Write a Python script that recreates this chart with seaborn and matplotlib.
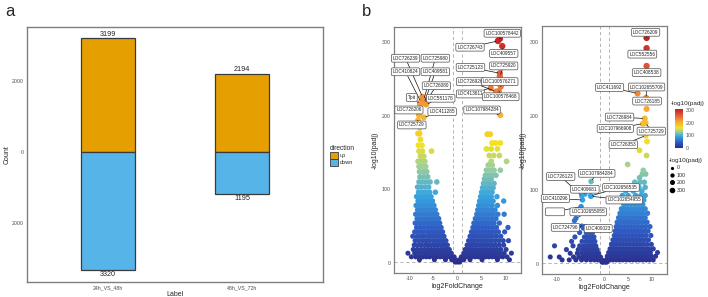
import matplotlib
matplotlib.use("Agg")
import numpy as np
import pandas as pd
import matplotlib.pyplot as plt
import seaborn as sns
from matplotlib.colors import LinearSegmentedColormap, Normalize
from matplotlib.cm import ScalarMappable
from matplotlib.lines import Line2D
from matplotlib.patches import Patch
import matplotlib.ticker as mticker

# ---------------- panel a : DEG counts ----------------
comparisons = ["24h_VS_48h", "48h_VS_72h"]
up_counts = [3199, 2194]
down_counts = [3320, 1195]

# ---------------- panel b : volcano data (log2FC values per -log10(padj) level) ----------------
v1_down_rows = [
    (1, [-0.2, -0.5]),
    (4, [-0.4, -0.8, -1.2, -2.5, -4.8, -7.9]),
    (8, [-0.7, -1.1, -1.6, -2.2, -2.9, -3.6, -4.3, -5.0, -5.8, -6.5, -7.2, -8.0, -8.7, -9.6]),
    (13, [-1.3, -1.8, -2.4, -3.0, -3.7, -4.4, -5.1, -5.8, -6.6, -7.3, -8.1, -8.9, -10.3]),
    (18, [-1.7, -2.2, -2.8, -3.4, -4.1, -4.8, -5.5, -6.2, -6.9, -7.6, -8.4, -9.2]),
    (24, [-2.1, -2.6, -3.2, -3.9, -4.6, -5.3, -6.0, -6.7, -7.5, -8.2, -9.0]),
    (30, [-2.4, -3.0, -3.6, -4.3, -5.0, -5.8, -6.5, -7.2, -8.0, -8.8]),
    (36, [-2.8, -3.4, -4.0, -4.7, -5.4, -6.1, -6.9, -7.6, -8.4, -9.3]),
    (42, [-3.1, -3.7, -4.4, -5.1, -5.8, -6.5, -7.3, -8.1, -8.9]),
    (48, [-3.4, -4.0, -4.7, -5.4, -6.1, -6.9, -7.7, -8.5]),
    (54, [-3.7, -4.3, -5.0, -5.7, -6.4, -7.2, -8.0, -8.8]),
    (60, [-3.9, -4.6, -5.3, -6.0, -6.8, -7.6, -8.4]),
    (66, [-4.3, -5.0, -5.7, -6.4, -7.1, -7.9, -8.7]),
    (72, [-4.6, -5.3, -6.0, -6.7, -7.5, -8.3]),
    (78, [-4.9, -5.6, -6.3, -7.1, -7.9, -8.6]),
    (84, [-5.2, -5.9, -6.6, -7.4, -8.2]),
    (90, [-5.5, -6.2, -7.0, -7.8, -8.5]),
    (96, [-4.6, -5.8, -6.5, -7.3, -8.1]),
    (103, [-6.0, -6.8, -7.6, -8.3]),
    (110, [-4.3, -5.7, -6.5, -7.3, -8.0]),
    (117, [-6.2, -7.0, -7.8]),
    (124, [-6.4, -7.1, -7.9]),
    (131, [-6.6, -7.3, -8.0]),
    (138, [-6.8, -7.5, -8.2]),
    (145, [-7.0, -7.7]),
    (152, [-5.4, -7.3, -8.0]),
    (160, [-7.4, -8.1]),
    (168, [-7.7]),
    (176, [-7.9, -8.2]),
    (184, [-7.8]),
    (190, [-8.0]),
]
v1_up_rows = [
    (1, [0.2, 0.5]),
    (4, [0.4, 0.8, 1.3, 2.6, 5.1, 8.3, 10.8]),
    (8, [0.8, 1.2, 1.7, 2.3, 3.0, 3.7, 4.4, 5.1, 5.8, 6.5, 7.2, 7.9, 8.6, 9.4, 10.3]),
    (13, [1.3, 1.8, 2.4, 3.0, 3.7, 4.4, 5.1, 5.8, 6.5, 7.2, 8.0, 8.8, 9.7, 11.2]),
    (18, [1.6, 2.1, 2.7, 3.3, 4.0, 4.7, 5.4, 6.1, 6.8, 7.5, 8.2, 9.0, 10.1]),
    (24, [2.0, 2.5, 3.1, 3.7, 4.4, 5.1, 5.8, 6.5, 7.2, 7.9, 8.7, 9.6]),
    (30, [2.3, 2.9, 3.5, 4.2, 4.9, 5.6, 6.3, 7.0, 7.8, 8.6, 9.5, 10.6]),
    (36, [2.6, 3.2, 3.8, 4.5, 5.2, 5.9, 6.6, 7.3, 8.1, 9.0]),
    (42, [2.9, 3.5, 4.1, 4.8, 5.5, 6.2, 6.9, 7.7, 8.5, 9.8]),
    (48, [3.2, 3.8, 4.4, 5.1, 5.8, 6.5, 7.3, 8.1, 10.5]),
    (54, [3.4, 4.0, 4.7, 5.4, 6.1, 6.8, 7.6, 8.7]),
    (60, [3.7, 4.3, 5.0, 5.7, 6.4, 7.2, 8.0]),
    (66, [4.0, 4.6, 5.3, 6.0, 6.7, 7.5, 8.4, 9.7]),
    (72, [4.2, 4.8, 5.5, 6.2, 7.0, 7.8]),
    (78, [4.4, 5.0, 5.7, 6.4, 7.2, 8.3]),
    (84, [4.6, 5.2, 5.9, 6.6, 7.4, 9.6]),
    (90, [4.8, 5.5, 6.2, 7.0, 8.2]),
    (96, [5.0, 5.7, 6.4, 7.2]),
    (102, [5.2, 5.9, 6.6, 7.4]),
    (108, [5.4, 6.1, 6.8, 7.6]),
    (114, [5.6, 6.3, 7.0]),
    (119, [5.8, 6.5, 7.2, 8.0]),
    (126, [6.0, 6.8, 7.6, 8.9]),
    (133, [6.4, 7.2]),
    (138, [7.0, 10.2]),
    (146, [6.6, 7.5, 8.7]),
    (155, [6.0, 7.0, 8.3]),
    (163, [7.2, 7.9, 8.9]),
    (175, [6.2, 6.8]),
]
v1_genes = ["LOC726239", "LOC725980", "LOC410824", "LOC409581", "LOC726080",
            "Tpit", "LOC551178", "LOC726206", "LOC411285", "LOC725729",
            "LOC100578442", "LOC726743", "LOC409557", "LOC725123", "LOC725920",
            "LOC726926", "LOC100576271", "LOC413611", "LOC100578468", "LOC107984284"]
v1_gene_lfc = [-7.3, -7.0, -7.6, -6.9, -6.8, -7.8, -6.5, -8.0, -7.0, -8.2,
               8.8, 8.4, 9.3, 8.8, 8.8, 8.0, 9.0, 6.9, 8.6, 8.9]
v1_gene_padj = [226, 222, 219, 218, 217, 216, 215.5, 201, 198, 194,
                305, 302, 295, 258, 254, 233, 240, 238, 234, 201]

v2_down_rows = [
    (2, [-0.2, -0.5]),
    (5, [-0.5, -0.9, -1.4, -2.1, -2.9, -3.8, -4.8, -6.0, -7.4, -8.9]),
    (9, [-0.8, -1.2, -1.7, -2.3, -3.0, -3.7, -4.5, -5.4, -6.5, -9.5, -11.4]),
    (14, [-1.2, -1.6, -2.1, -2.7, -3.3, -4.0, -4.8, -5.7, -7.2]),
    (19, [-1.5, -2.0, -2.5, -3.1, -3.8, -4.6, -5.5, -8.0]),
    (24, [-1.8, -2.3, -2.9, -3.6, -4.3, -5.2, -6.6, -10.5]),
    (30, [-2.0, -2.6, -3.2, -3.9, -4.7, -6.9]),
    (36, [-2.2, -2.8, -3.5, -4.2, -6.2]),
    (42, [-2.5, -3.1, -3.8, -5.2]),
    (48, [-3.4, -4.4]),
    (58, [-6.3]),
]
v2_up_rows = [
    (2, [0.2, 0.5]),
    (5, [0.4, 0.8, 1.2, 1.8, 2.5, 3.2, 3.9, 4.6, 5.3, 6.0, 6.7, 7.4, 8.1, 8.8, 9.5, 10.3]),
    (10, [0.6, 1.0, 1.5, 2.1, 2.8, 3.5, 4.2, 4.9, 5.6, 6.3, 7.0, 7.7, 8.4, 9.1, 9.9, 10.8]),
    (15, [0.9, 1.4, 2.0, 2.6, 3.3, 4.0, 4.7, 5.4, 6.1, 6.8, 7.5, 8.2, 8.9, 9.7, 11.2]),
    (20, [1.2, 1.7, 2.3, 3.0, 3.7, 4.4, 5.1, 5.8, 6.5, 7.2, 7.9, 8.6, 9.4, 10.3]),
    (26, [1.5, 2.0, 2.6, 3.3, 4.0, 4.7, 5.4, 6.1, 6.8, 7.5, 8.2, 9.0, 9.9]),
    (32, [1.8, 2.3, 2.9, 3.5, 4.2, 4.9, 5.6, 6.3, 7.0, 7.7, 8.5, 9.3]),
    (38, [2.1, 2.6, 3.2, 3.8, 4.5, 5.2, 5.9, 6.6, 7.3, 8.0, 8.8, 9.8]),
    (44, [2.3, 2.8, 3.4, 4.1, 4.8, 5.5, 6.2, 6.9, 7.6, 8.4, 9.2]),
    (50, [2.5, 3.0, 3.6, 4.3, 5.0, 5.7, 6.4, 7.1, 7.9, 8.7, 9.6]),
    (56, [2.7, 3.3, 3.9, 4.6, 5.3, 6.0, 6.7, 7.4, 8.2, 9.0]),
    (62, [3.0, 3.6, 4.2, 4.9, 5.6, 6.3, 7.0, 7.8, 8.6]),
    (68, [3.3, 3.9, 4.6, 5.3, 6.0, 6.7, 7.4, 8.2, 9.1]),
    (74, [3.6, 4.2, 4.9, 5.6, 6.3, 7.0, 7.8, 8.6]),
    (80, [4.1, 4.8, 5.6, 6.4, 7.2, 8.1]),
    (86, [4.4, 5.6, 6.9, 8.3]),
    (92, [3.8, 5.0, 6.6, 7.7, 8.6]),
    (98, [4.5, 6.1, 7.9]),
    (103, [5.2, 7.3, 8.6]),
    (110, [6.4, 7.5, 8.4]),
    (116, [7.4]),
    (121, [8.0, 8.7]),
    (126, [8.2]),
    (134, [4.9]),
    (146, [8.9]),
    (153, [7.4]),
    (165, [9.0]),
    (209, [8.9]),
]
v2_genes = ["LOC726209", "LOC552556", "LOC408538", "LOC411692", "LOC102655709",
            "LOC726185", "LOC726984", "LOC107966908", "LOC725729", "LOC726353",
            "LOC726123", "LOC107984284", "LOC409681", "LOC102656535", "LOC410296",
            "LOC102654955", "            ", "LOC102655055", "LOC724796", "LOC409023"]
v2_gene_lfc = [8.9, 8.9, 8.9, 7.0, 8.8, 8.9, 8.5, 8.1, 8.7, 8.7,
               -4.75, -2.8, -4.1, -2.9, -4.6, -2.8, -4.9, -6.0, -4.75, -4.1]
v2_gene_padj = [305, 291, 267, 230, 224, 222, 196, 189, 190, 173,
                91.4, 111, 94, 91.5, 86, 91, 77, 61, 50.7, 50]

# label box placement (layout only)
v1_boxes = [(-10.8, 278.5), (-4.6, 278.5), (-10.8, 260), (-4.6, 260), (-4.4, 241),
            (-9.5, 225), (-3.5, 224), (-10.1, 208), (-3.2, 205.7), (-9.5, 187.6),
            (9.3, 312.5), (2.6, 293.5), (9.6, 285), (2.7, 266), (9.6, 268),
            (2.7, 246.6), (8.8, 246.6), (2.7, 229.8), (9.0, 226), (5.1, 208)]
v2_boxes = [(8.7, 312.5), (8.0, 283), (8.9, 258), (1.1, 238), (8.9, 238.6),
            (9.0, 219.6), (3.2, 198), (2.3, 182.5), (9.9, 179), (4.0, 160.7),
            (-9.2, 117.7), (-1.6, 122), (-4.1, 100.5), (3.5, 103), (-10.3, 88),
            (4.2, 86), (-10.4, 70), (-3.4, 70), (-8.2, 49), (-1.3, 47.5)]

# ---------------- style ----------------
sns.set_style("white")
plt.rcParams["font.family"] = ["Liberation Sans", "DejaVu Sans"]
plt.rcParams["axes.unicode_minus"] = False

W, H = 708, 297
fig = plt.figure(figsize=(W / 100, H / 100), dpi=100)


def fax(l, t, r, b):
    return fig.add_axes([l / W, 1 - b / H, (r - l) / W, (b - t) / H])


TICK_C = "#4d4d4d"
BORDER_C = "#7f7f7f"

# ---------------- panel a ----------------
axa = fax(27, 27, 323, 282)
bars = pd.DataFrame({
    "Label": comparisons * 2,
    "Count": up_counts + [-v for v in down_counts],
    "direction": ["up"] * 2 + ["down"] * 2,
})
sns.barplot(data=bars, x="Label", y="Count", hue="direction",
            palette={"up": "#E69F00", "down": "#56B4E9"}, dodge=False, saturation=1,
            width=0.4, edgecolor="#3a3a3a", linewidth=0.9, ax=axa, legend=False)
for cont in axa.containers:
    axa.bar_label(cont, labels=[f"{abs(int(v))}" for v in cont.datavalues],
                  padding=0.5, fontsize=5.2, color="#222222")
axa.set_xlim(-0.6, 1.6)
axa.set_ylim(-3662, 3521)
axa.set_yticks([-2000, 0, 2000])
axa.yaxis.set_major_formatter(mticker.FuncFormatter(lambda v, p: f"{abs(int(v))}"))
axa.tick_params(labelsize=3.8, colors=TICK_C, length=1.5, width=0.5, pad=0.8)
axa.set_xlabel("Label", fontsize=5, labelpad=0.5)
axa.set_ylabel("Count", fontsize=5, labelpad=1)
for s in axa.spines.values():
    s.set_color(BORDER_C)
    s.set_linewidth(1.0)
axa.legend(handles=[Patch(fc="#E69F00", ec="#3a3a3a", lw=0.6, label="up"),
                    Patch(fc="#56B4E9", ec="#3a3a3a", lw=0.6, label="down")],
           title="direction", loc="upper left", bbox_to_anchor=(326 / W, 1 - 141 / H),
           bbox_transform=fig.transFigure, frameon=False, fontsize=4.0,
           title_fontsize=4.8, handlelength=1.4, handleheight=1.5,
           handletextpad=0.4, labelspacing=0.05, borderpad=0.2, alignment="left")
fig.text(5 / W, 1 - 12 / H, "a", fontsize=12, va="center", ha="left")
fig.text(362 / W, 1 - 12 / H, "b", fontsize=12, va="center", ha="left")

# ---------------- panel b ----------------
cmap = LinearSegmentedColormap.from_list("padj", [
    (0.0, "#2b2d8a"), (0.15, "#2f5dc6"), (0.3, "#38a6e0"), (0.42, "#9dcf9b"),
    (0.52, "#f2e31e"), (0.67, "#f7a935"), (0.85, "#e2573b"), (1.0, "#c01f1f")])
norm = Normalize(0, 310)
PT_MIN, PT_MAX = 13, 22


def volcano(ax, down_rows, up_rows, g_lfc, g_padj, genes, boxes):
    lfc, padj = [], []
    for y, row in down_rows + up_rows:
        lfc += row
        padj += [y] * len(row)
    lfc += g_lfc
    padj += g_padj
    df = pd.DataFrame({"log2FoldChange": lfc, "padj": padj}).sort_values("padj")
    ax.axvline(-1, ls=(0, (4, 3)), color="#aaaaaa", lw=0.6, zorder=0)
    ax.axvline(1, ls=(0, (4, 3)), color="#aaaaaa", lw=0.6, zorder=0)
    ax.axhline(-np.log10(0.05), ls=(0, (4, 3)), color="#aaaaaa", lw=0.6, zorder=0)
    sns.scatterplot(data=df, x="log2FoldChange", y="padj", hue="padj", size="padj",
                    palette=cmap, hue_norm=norm, sizes=(PT_MIN, PT_MAX), size_norm=(0, 310),
                    linewidth=0, legend=False, ax=ax, zorder=2)
    for name, x, y, (bx, by) in zip(genes, g_lfc, g_padj, boxes):
        ax.annotate(name, xy=(x, y), xytext=(bx, by), fontsize=3.4, ha="center",
                    va="center", color="#222222", zorder=4,
                    bbox=dict(boxstyle="round,pad=0.3,rounding_size=0.3", fc="white",
                              ec="#4d4d4d", lw=0.5),
                    arrowprops=dict(arrowstyle="-", color="#111111", lw=0.5,
                                    shrinkA=0, shrinkB=1.5))
    ax.set_xlim(-13.2, 13.2)
    ax.set_ylim(-14, 321)
    ax.set_xticks([-10, -5, 0, 5, 10])
    ax.set_yticks([0, 100, 200, 300])
    ax.tick_params(labelsize=3.8, colors=TICK_C, length=1.5, width=0.5, pad=0.8)
    ax.set_xlabel("log2FoldChange", fontsize=5, labelpad=1)
    ax.set_ylabel("-log10(padj)", fontsize=5, labelpad=2)
    for s in ax.spines.values():
        s.set_color(BORDER_C)
        s.set_linewidth(0.9)


ax1 = fax(394, 27, 521, 273)
volcano(ax1, v1_down_rows, v1_up_rows, v1_gene_lfc, v1_gene_padj, v1_genes, v1_boxes)
ax2 = fax(541.7, 26, 667, 274)
volcano(ax2, v2_down_rows, v2_up_rows, v2_gene_lfc, v2_gene_padj, v2_genes, v2_boxes)

# colour legend
cax = fax(675, 109, 683, 148)
cb = fig.colorbar(ScalarMappable(norm=norm, cmap=cmap), cax=cax, ticks=[0, 100, 200, 300])
cb.outline.set_visible(False)
cax.tick_params(labelsize=3.8, length=0, pad=2, colors=TICK_C)
fig.text(671 / W, 1 - 104 / H, "-log10(padj)", fontsize=4.6, va="center", ha="left")

# size legend
size_vals = [0, 100, 200, 300]
legend_ms = [1.3, 2.1, 2.6, 3.0]
handles = [Line2D([], [], ls="", marker="o", color="black", markersize=ms)
           for ms in legend_ms]
fig.legend(handles, [str(v) for v in size_vals], title="-log10(padj)",
           loc="upper left", bbox_to_anchor=(668 / W, 1 - 157 / H), frameon=False,
           fontsize=3.8, title_fontsize=4.6, handletextpad=0.3, labelspacing=0.45,
           borderpad=0.1, borderaxespad=0.1, handlelength=1.2, alignment="left")

fig.savefig("out.png", dpi=100)
